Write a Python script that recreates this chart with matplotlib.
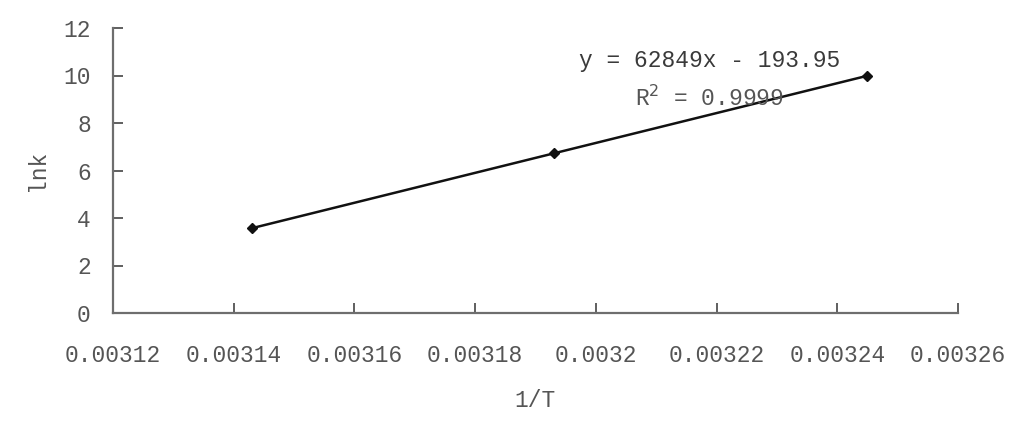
import matplotlib
matplotlib.use("Agg")
import matplotlib.pyplot as plt
from matplotlib.ticker import FuncFormatter

inv_T = [0.003143, 0.003193, 0.003245]
lnk = [3.57, 6.72, 9.99]
x_ticks = [0.00312, 0.00314, 0.00316, 0.00318, 0.0032, 0.00322, 0.00324, 0.00326]
y_ticks = [0, 2, 4, 6, 8, 10, 12]
eq_text = "y = 62849x - 193.95"
r2_text = "R$^2$ = 0.9999"

W, H = 1035, 421
fig = plt.figure(figsize=(W / 100, H / 100), dpi=100)
ax = fig.add_axes([113 / W, 1 - 313 / H, (958 - 113) / W, (313 - 28) / H])

font = "Liberation Mono"
tc = "#555555"
fs = 16.5
ax.plot(inv_T, lnk, color="#111111", lw=1.8, marker="D", ms=5, mfc="#111111", mec="#111111")

ax.set_xlim(0.00312, 0.00326)
ax.set_ylim(0, 12)
ax.set_xticks(x_ticks)
ax.set_yticks(y_ticks)
ax.xaxis.set_major_formatter(FuncFormatter(lambda v, p: f"{v:.5f}".rstrip("0")))
for s in ["top", "right"]:
    ax.spines[s].set_visible(False)
for s in ["left", "bottom"]:
    ax.spines[s].set_color("#6e6e6e")
    ax.spines[s].set_linewidth(1.6)
ax.tick_params(axis="both", direction="in", length=7, width=1.2, color="#444444",
               labelcolor=tc, labelsize=fs)
ax.tick_params(axis="y", pad=16)
ax.tick_params(axis="x", pad=22)
for lab in ax.get_xticklabels() + ax.get_yticklabels():
    lab.set_fontfamily(font)

ax.set_ylabel("lnk", fontfamily=font, fontsize=fs, color=tc, labelpad=10)
ax.set_xlabel("1/T", fontfamily=font, fontsize=fs, color=tc, labelpad=16)

ax.text(710 / W, 1 - 60 / H, eq_text, transform=fig.transFigure, ha="center", va="center",
        fontfamily=font, fontsize=fs, color="#3a3a3a")
ax.text(709 / W, 1 - 98 / H, r2_text, transform=fig.transFigure, ha="center", va="center",
        fontfamily=font, fontsize=fs, color="#555555")

fig.savefig("out.png", dpi=100, facecolor="white")
